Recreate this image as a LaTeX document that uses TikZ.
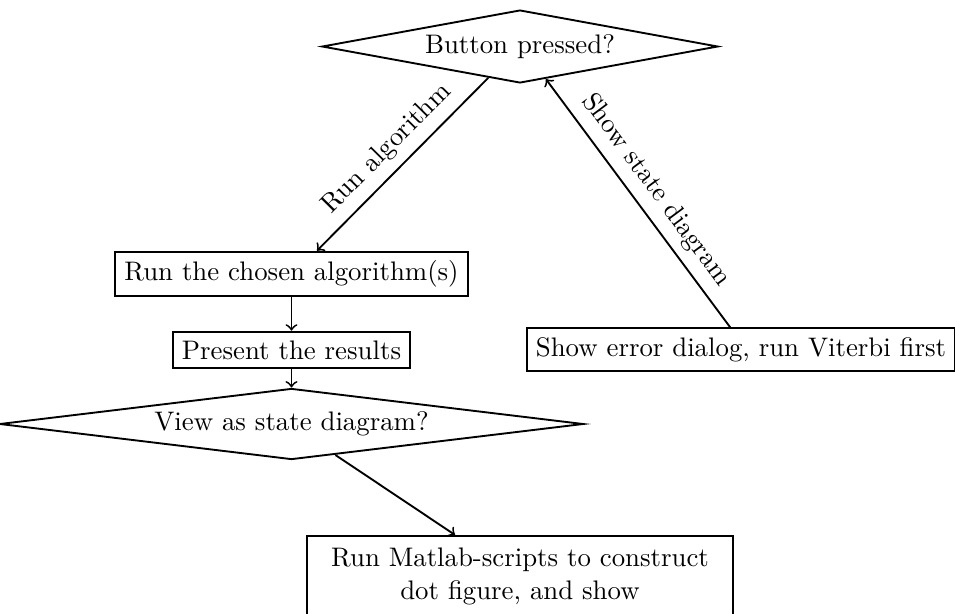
\documentclass[tikz,border=0pt]{standalone}
\usetikzlibrary{shapes.geometric,calc}
\begin{document}
\begin{tikzpicture}[x=0.373pt,y=-0.373pt,
  box/.style={draw, rectangle, line width=0.7pt, inner sep=3.33pt},
  decision/.style={draw, diamond, aspect=7, inner sep=0pt, line width=0.7pt},
  link/.style={->, line width=0.7pt},
  tag/.style={sloped, above, midway}]
\path[use as bounding box] (0,0) rectangle (955,614);
\clip (0,0) rectangle (955,614);

% decisions and actions
\node[decision, minimum width=147.7pt, minimum height=27.2pt] (ask) at (520,46.5) {Button pressed?};
\node[box] (run) at (291.5,274) {Run the chosen algorithm(s)};
\node[box] (present) at (291.5,350) {Present the results};
\node[decision, minimum width=217.8pt, minimum height=26.5pt] (view) at (291.5,424) {View as state diagram?};
\node[box] (err) at (741,349.5) {Show error dialog, run Viterbi first};
\node[box, text width=152.2pt, align=center, minimum height=30.2pt, anchor=north] (matlab) at (520,535)
  {Run Matlab-scripts to construct\\dot figure, and show};

% connectors
\draw[link] ($(ask.south)!0.16!(ask.west)$) -- node[tag]{Run algorithm} ([xshift=9.5pt]run.north);
\draw[link] ([xshift=-4pt]err.north) -- node[tag]{Show state diagram} ($(ask.south)!0.13!(ask.east)$);
\draw[link] (run) -- (present);
\draw[link] (present) -- (view);
\draw[link] ($(view.south)!0.15!(view.east)$) -- ([xshift=-24.2pt]matlab.north);
\end{tikzpicture}
\end{document}
